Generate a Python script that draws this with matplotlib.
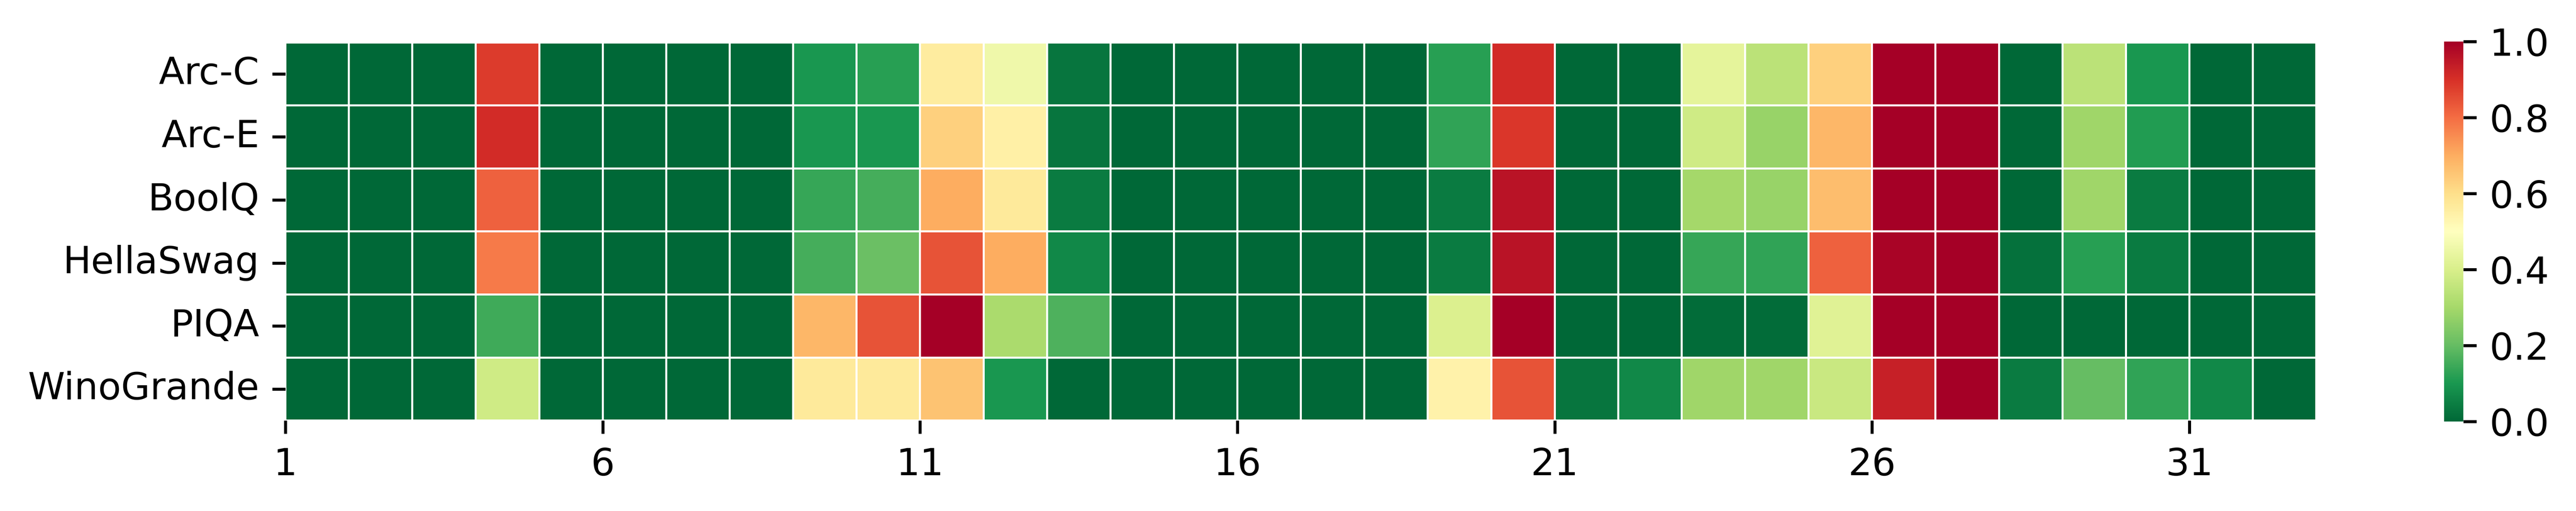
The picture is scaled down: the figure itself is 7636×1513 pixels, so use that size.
import matplotlib
matplotlib.use("Agg")
import matplotlib.pyplot as plt
import numpy as np
import seaborn as sns

# -------------------- Data -------------------- #

TASKS = ["Arc-C", "Arc-E", "BoolQ", "HellaSwag", "PIQA", "WinoGrande"]
LAYERS = list(range(1, 33))

arc_c = [0, 0, 0, 0.88, 0, 0, 0, 0, 0.10, 0.12, 0.56, 0.46, 0.03, 0, 0, 0,
         0, 0, 0.12, 0.91, 0, 0, 0.43, 0.34, 0.63, 1.0, 1.0, 0, 0.34, 0.10, 0, 0]
arc_e = [0, 0, 0, 0.91, 0, 0, 0, 0, 0.10, 0.10, 0.63, 0.55, 0.03, 0, 0, 0,
         0, 0, 0.13, 0.89, 0, 0, 0.38, 0.28, 0.68, 1.0, 1.0, 0, 0.29, 0.11, 0, 0]
boolq = [0, 0, 0, 0.82, 0, 0, 0, 0, 0.14, 0.16, 0.70, 0.57, 0.04, 0, 0, 0,
         0, 0, 0.04, 0.96, 0, 0, 0.30, 0.28, 0.67, 1.0, 1.0, 0, 0.29, 0.04, 0, 0]
hellaswag = [0, 0, 0, 0.78, 0, 0, 0, 0, 0.16, 0.21, 0.84, 0.70, 0.07, 0, 0, 0,
             0, 0, 0.04, 0.96, 0, 0, 0.14, 0.13, 0.82, 0.99, 1.0, 0.02, 0.12, 0.04, 0, 0]
piqa = [0, 0, 0, 0.15, 0, 0, 0, 0, 0.68, 0.84, 1.0, 0.31, 0.17, 0, 0, 0,
        0, 0, 0.41, 1.0, 0, 0, 0.01, 0.01, 0.42, 1.0, 1.0, 0, 0, 0, 0, 0]
winogrande = [0, 0, 0, 0.38, 0, 0, 0, 0, 0.57, 0.57, 0.66, 0.10, 0, 0, 0, 0,
              0, 0, 0.54, 0.84, 0.03, 0.07, 0.29, 0.29, 0.37, 0.93, 1.0, 0.04, 0.20, 0.13, 0.07, 0]

XTICK_LABELS = LAYERS[::5]
CBAR_TICKS = [0.0, 0.2, 0.4, 0.6, 0.8, 1.0]

# -------------------- Plot -------------------- #

DPI = 800
fig = plt.figure(figsize=(7636 / DPI, 1513 / DPI), dpi=DPI)
ax = fig.add_axes([0.1108, 0.177, 0.7884, 0.740])
cax = fig.add_axes([0.9488, 0.175, 0.0075, 0.744])

scores = np.array([arc_c, arc_e, boolq, hellaswag, piqa, winogrande])

sns.heatmap(
    scores,
    ax=ax,
    cbar_ax=cax,
    cmap="RdYlGn_r",
    vmin=0.0,
    vmax=1.0,
    linewidths=0.5,
    linecolor="white",
    yticklabels=TASKS,
)

# layer ticks sit on the left edge of each 5th cell
ax.set_xticks(np.arange(0, len(LAYERS), 5))
ax.set_xticklabels([str(v) for v in XTICK_LABELS], rotation=0, fontsize=10)
ax.set_yticklabels(TASKS, rotation=0, fontsize=10)

cax.set_yticks(CBAR_TICKS)
cax.set_yticklabels([f"{t:.1f}" for t in CBAR_TICKS], fontsize=10)

fig.savefig("out.png", dpi=DPI)
